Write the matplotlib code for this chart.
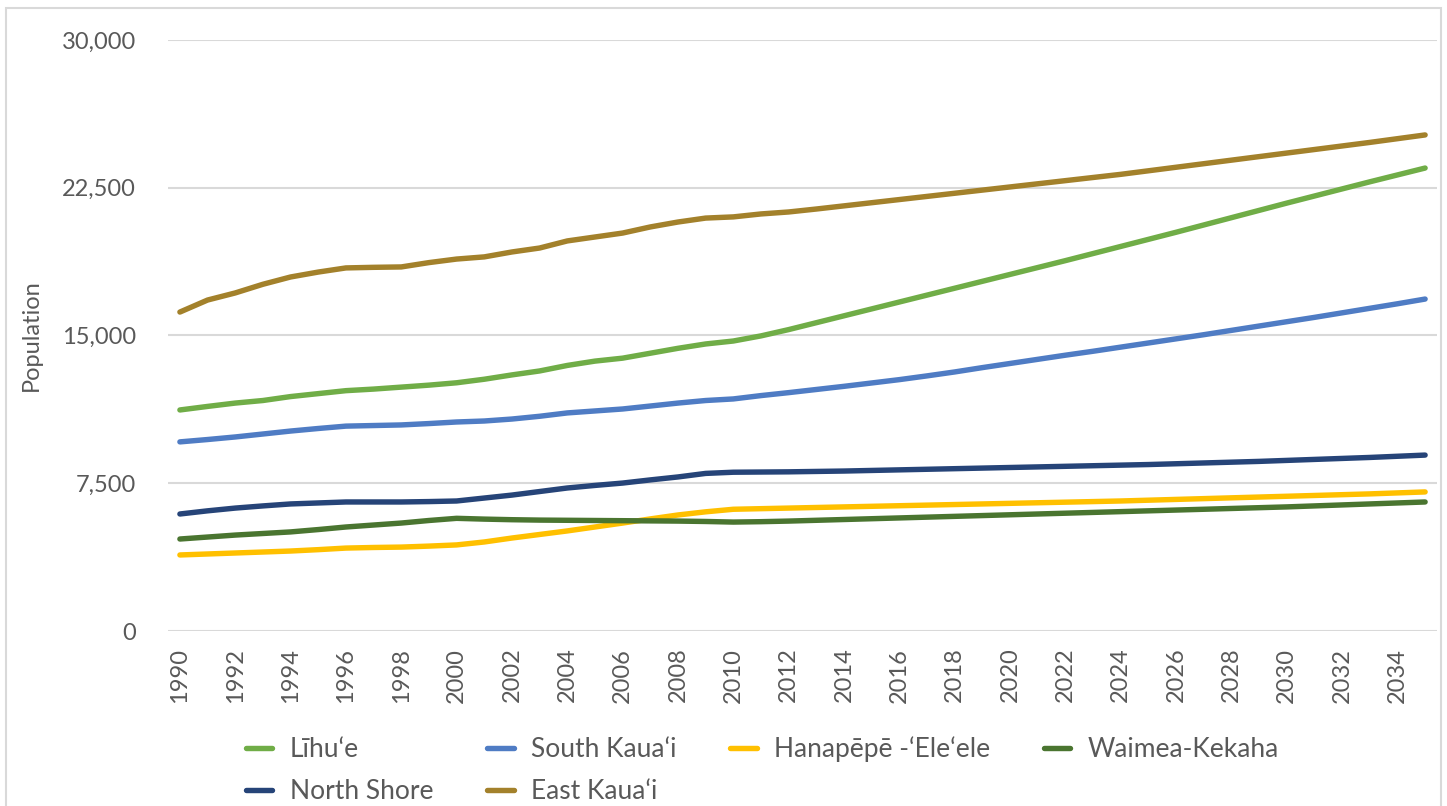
import matplotlib
matplotlib.use("Agg")
import matplotlib.pyplot as plt
from matplotlib.patches import Rectangle
from matplotlib.ticker import FuncFormatter

plt.rcParams['font.family'] = ['Lato', 'DejaVu Sans']

years = list(range(1990, 2036))

lihue = [11220, 11400, 11570, 11700, 11900, 12050, 12200, 12280, 12380, 12480,
         12600, 12780, 13000, 13200, 13480, 13700, 13850, 14100, 14350, 14570,
         14720, 14980, 15300, 15650, 16000, 16350, 16700, 17050, 17400, 17750,
         18100, 18450, 18800, 19160, 19520, 19880, 20240, 20610, 20980, 21350,
         21720, 22080, 22440, 22800, 23150, 23500]
south_kauai = [9600, 9720, 9850, 10000, 10150, 10280, 10400, 10430, 10460, 10530,
               10610, 10660, 10760, 10900, 11070, 11170, 11270, 11420, 11570, 11700,
               11780, 11950, 12100, 12260, 12420, 12590, 12760, 12950, 13150, 13370,
               13580, 13790, 14000, 14200, 14410, 14620, 14830, 15040, 15260, 15480,
               15700, 15920, 16150, 16380, 16610, 16850]
hanapepe = [3860, 3910, 3960, 4010, 4060, 4130, 4210, 4240, 4260, 4310,
            4370, 4520, 4720, 4900, 5080, 5280, 5480, 5690, 5890, 6050,
            6180, 6210, 6240, 6270, 6300, 6330, 6360, 6390, 6420, 6450,
            6480, 6510, 6540, 6570, 6600, 6640, 6680, 6720, 6760, 6800,
            6840, 6880, 6920, 6960, 7010, 7060]
waimea = [4670, 4770, 4870, 4950, 5030, 5150, 5280, 5380, 5480, 5610,
          5720, 5680, 5650, 5630, 5620, 5610, 5600, 5590, 5580, 5560,
          5530, 5550, 5580, 5620, 5660, 5700, 5740, 5780, 5820, 5860,
          5900, 5940, 5980, 6020, 6060, 6100, 6140, 6180, 6220, 6260,
          6300, 6350, 6400, 6450, 6500, 6550]
north_shore = [5940, 6100, 6240, 6350, 6450, 6500, 6550, 6550, 6550, 6570,
               6600, 6750, 6900, 7080, 7260, 7390, 7510, 7670, 7820, 8000,
               8060, 8070, 8080, 8100, 8120, 8150, 8180, 8210, 8240, 8270,
               8300, 8330, 8360, 8390, 8420, 8450, 8490, 8530, 8570, 8610,
               8660, 8710, 8760, 8810, 8870, 8930]
east_kauai = [16190, 16800, 17160, 17600, 17970, 18220, 18430, 18460, 18480, 18700,
              18880, 18990, 19240, 19440, 19800, 20000, 20200, 20510, 20760, 20960,
              21020, 21170, 21270, 21420, 21580, 21740, 21900, 22060, 22220, 22380,
              22540, 22700, 22860, 23020, 23180, 23360, 23540, 23720, 23900, 24080,
              24260, 24440, 24620, 24800, 24990, 25180]

names = ['L\u012bhu\u2018e', 'South Kaua\u2018i', 'Hanap\u0113p\u0113 -\u2018Ele\u2018ele',
         'Waimea-Kekaha', 'North Shore', 'East Kaua\u2018i']
series = [lihue, south_kauai, hanapepe, waimea, north_shore, east_kauai]
colors = ['#70AD47', '#4F7CC4', '#FFC000', '#4A7530', '#264478', '#A3812B']

fig = plt.figure(figsize=(14.47, 8.06), dpi=100)
ax = fig.add_axes([0.1161, 0.2171, 0.877, 0.7333])

lines = {}
for name, vals, col in zip(names, series, colors):
    ln, = ax.plot(years, vals, color=col, lw=3.9, solid_capstyle='round',
                  solid_joinstyle='round', label=name)
    lines[name] = ln

ax.set_ylim(0, 30000)
ax.set_xlim(1989.57, 2035.43)
ax.set_yticks([0, 7500, 15000, 22500, 30000])
ax.yaxis.set_major_formatter(FuncFormatter(lambda v, p: f'{int(v):,}'))
ax.set_xticks(years[:-1:2])
ax.tick_params(axis='x', labelrotation=90, length=0, pad=12, labelsize=17, labelcolor='#595959')
ax.tick_params(axis='y', length=0, pad=23, labelsize=17, labelcolor='#595959')
ax.grid(axis='y', color='#D9D9D9', lw=1.5)
ax.set_axisbelow(True)
for s in ax.spines.values():
    s.set_visible(False)

ax.set_ylabel('Population', fontsize=17, color='#595959', labelpad=14)

order = [names[0], names[4], names[1], names[5], names[2], names[3]]
fig.legend([lines[n] for n in order], order, loc='lower left',
           bbox_to_anchor=(0.170, 0.002), ncol=4, frameon=False, fontsize=19,
           borderpad=0, borderaxespad=0,
           handlelength=1.0, handletextpad=0.65, columnspacing=2.05,
           labelspacing=0.65, labelcolor='#595959')

fig.patches.append(Rectangle((0.004, -0.01), 0.992, 1.0, transform=fig.transFigure,
                             fill=False, edgecolor='#D9D9D9', lw=1.5))

fig.savefig('out.png', dpi=100, facecolor='white')
